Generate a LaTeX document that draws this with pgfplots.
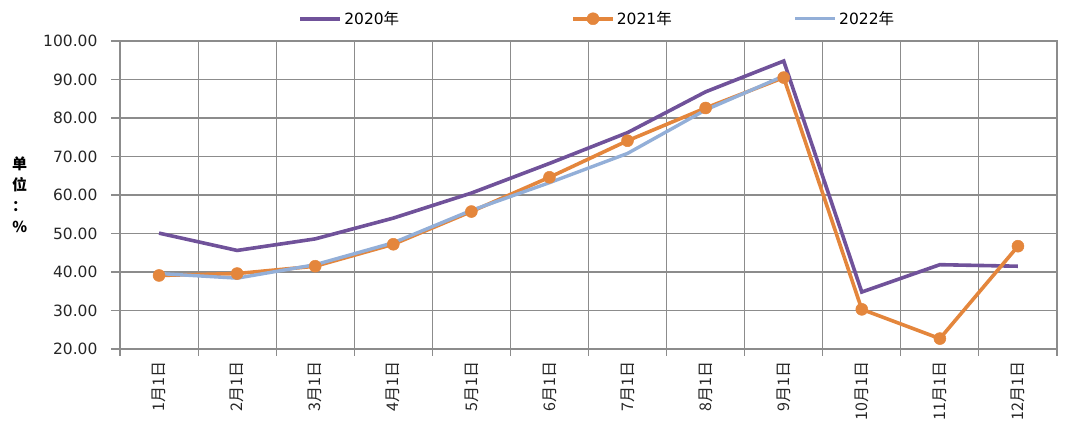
\documentclass[border=0pt]{standalone}
\usepackage{fontspec}
\usepackage{pgfplots}
\pgfplotsset{compat=1.18}
\setmainfont{DejaVu Sans}
\newfontfamily\cjk{Noto Sans CJK SC}

\definecolor{cPurple}{HTML}{70529A}
\definecolor{cOrange}{HTML}{E4863C}
\definecolor{cBlue}{HTML}{93AFD8}
\definecolor{cGrid}{HTML}{8C8C8C}

\begin{document}
\begin{tikzpicture}
\useasboundingbox (-120pt,-74pt) rectangle (960pt,349pt);
\begin{axis}[
  scale only axis,
  width=937pt, height=308pt,
  xmin=0.5, xmax=12.5,
  ymin=20, ymax=100,
  xtick={1,...,12},
  xticklabels={1月1日,2月1日,3月1日,4月1日,5月1日,6月1日,7月1日,8月1日,9月1日,10月1日,11月1日,12月1日},
  minor xtick={0.5,1.5,...,12.5},
  major x tick style={draw=none},
  minor x tick style={cGrid, line width=1.1pt},
  xminorgrids=true,
  ytick={20,30,...,100},
  ymajorgrids=true,
  grid style={cGrid, line width=1.1pt},
  minor grid style={cGrid, line width=1.1pt},
  axis line style={cGrid, line width=1.1pt},
  tick align=outside,
  major tick length=9pt,
  minor tick length=7pt,
  ytick style={cGrid, line width=1.1pt},
  xtick pos=bottom, ytick pos=left,
  /pgf/number format/assume math mode=true,
  yticklabel={\pgfmathprintnumber[fixed,fixed zerofill,precision=2]{\tick}},
  yticklabel style={font=\fontsize{15.5}{17}\selectfont, color=black!85, xshift=-10pt},
  xticklabel style={font=\cjk\fontsize{16}{18}\selectfont, rotate=90, anchor=east, color=black!85},
  ylabel={单\\位\\：\\\%},
  ylabel style={rotate=-90, at={(axis description cs:-0.107,0.5)}, anchor=center, align=center,
    font=\cjk\bfseries\fontsize{15}{21}\selectfont},
  legend columns=3,
  legend style={draw=none, fill=none, at={(axis description cs:0.5095,1.035)}, anchor=south,
    font=\fontsize{15.5}{17}\selectfont,
    /tikz/column 2/.style={column sep=170pt},
    /tikz/column 4/.style={column sep=120pt}},
  legend image code/.code={\draw[mark repeat=2,mark phase=2,#1] plot coordinates {(0pt,0pt)(20pt,0pt)(40pt,0pt)};},
]
\addplot[cPurple, line width=3.6pt] coordinates {
  (1,50.1) (2,45.6) (3,48.6) (4,54.0) (5,60.5) (6,68.2)
  (7,76.2) (8,86.8) (9,94.8) (10,34.8) (11,41.9) (12,41.5)};
\addlegendentry{2020{\cjk 年}}
\addplot[cOrange, line width=3.6pt, mark=*, mark size=6pt, mark options={fill=cOrange, draw=cOrange, line width=0.5pt}] coordinates {
  (1,39.1) (2,39.6) (3,41.5) (4,47.2) (5,55.7) (6,64.6)
  (7,74.1) (8,82.6) (9,90.5) (10,30.3) (11,22.7) (12,46.7)};
\addlegendentry{2021{\cjk 年}}
\addplot[cBlue, line width=3.4pt] coordinates {
  (1,39.6) (2,38.4) (3,41.9) (4,47.6) (5,56.0) (6,63.2)
  (7,70.8) (8,82.1) (9,90.9)};
\addlegendentry{2022{\cjk 年}}
\end{axis}
\end{tikzpicture}
\end{document}
